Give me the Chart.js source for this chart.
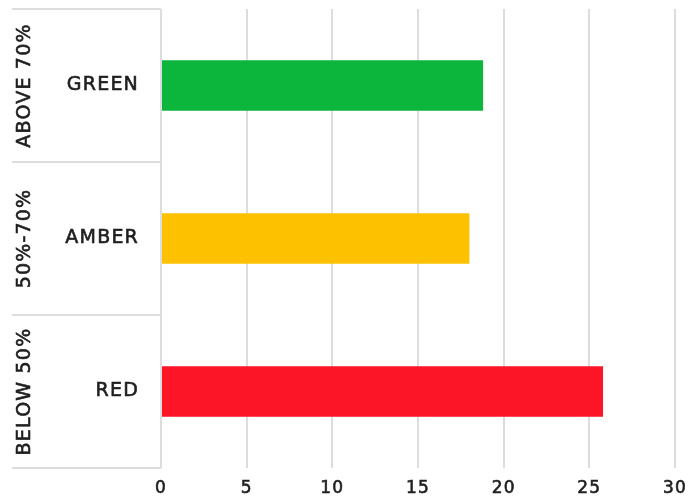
<!DOCTYPE html>
<html>
<head>
<meta charset="utf-8">
<script src="https://cdn.jsdelivr.net/npm/chart.js@4/dist/chart.umd.min.js"></script>
<style>
  html, body { margin: 0; padding: 0; background: #ffffff; }
  canvas { display: block; }
</style>
</head>
<body>
<canvas id="c" width="689" height="501"></canvas>
<script>
// ---- data ----
const categories = ['GREEN', 'AMBER', 'RED'];
const groupLabels = ['ABOVE 70%', '50%-70%', 'BELOW 50%'];
const values = [18.8, 18.0, 25.8];
const barColors = ['#0cb53c', '#fdc100', '#fb1526'];
const xTicks = [0, 5, 10, 15, 20, 25, 30];

// ---- style ----
const FAMILY = "'DejaVu Sans', sans-serif";
const FSIZE = 19;
const TICK_FSIZE = 17;
const SPACING = '1.2px';
const TEXT = '#1e1e1e';
const GRID = '#dddddd';
const PAD_LEFT = 12;
const W_OUT = 50;
const PLOT_LEFT = 161;
const W_IN = PLOT_LEFT - PAD_LEFT - W_OUT;
const OUT_CENTER = 25;
const STROKE = 0.6;

const mctx = document.createElement('canvas').getContext('2d');
mctx.font = 'normal ' + FSIZE + 'px ' + FAMILY;
mctx.letterSpacing = SPACING;
const widestGroup = Math.max(...groupLabels.map(t => mctx.measureText(t).width));
const outPadding = (PAD_LEFT + W_OUT) - OUT_CENTER - widestGroup / 2;

const spacingPlugin = {
  id: 'spacing',
  beforeUpdate(chart) { chart.ctx.letterSpacing = SPACING; },
  beforeDraw(chart) { chart.ctx.letterSpacing = SPACING; }
};

new Chart(document.getElementById('c'), {
  type: 'bar',
  data: {
    labels: categories,
    datasets: [{
      data: values,
      backgroundColor: barColors,
      borderWidth: 0,
      barPercentage: 0.33,
      categoryPercentage: 1.0,
      yAxisID: 'y'
    }]
  },
  plugins: [spacingPlugin],
  options: {
    indexAxis: 'y',
    responsive: false,
    animation: false,
    devicePixelRatio: 1,
    layout: { padding: { left: PAD_LEFT, right: 0, top: 9, bottom: 0 } },
    plugins: { legend: { display: false }, tooltip: { enabled: false } },
    scales: {
      x: {
        type: 'linear',
        min: 0,
        max: 30,
        afterBuildTicks: (scale) => { scale.ticks = xTicks.map(v => ({ value: v })); },
        border: { display: false },
        grid: { color: GRID, lineWidth: 2, drawTicks: false },
        ticks: { color: TEXT, textStrokeColor: TEXT, textStrokeWidth: STROKE, padding: 10, font: { family: FAMILY, size: TICK_FSIZE } },
        afterFit: (scale) => { scale.height = 33; scale.paddingRight = 14; scale.paddingLeft = 0; }
      },
      y: {
        type: 'category',
        position: 'left',
        weight: 0,
        offset: true,
        border: { display: false },
        grid: { offset: true, drawOnChartArea: false, drawTicks: true, tickLength: PLOT_LEFT - PAD_LEFT, color: GRID, lineWidth: 2 },
        ticks: { color: TEXT, textStrokeColor: TEXT, textStrokeWidth: STROKE, crossAlign: 'near', padding: -(PLOT_LEFT - PAD_LEFT) + 22, autoSkip: false, font: { family: FAMILY, size: FSIZE } },
        afterFit: (scale) => { scale.width = W_IN; }
      },
      y2: {
        type: 'category',
        position: 'left',
        weight: 10,
        offset: true,
        labels: groupLabels,
        border: { display: false },
        grid: { display: false, drawTicks: false },
        ticks: { color: TEXT, textStrokeColor: TEXT, textStrokeWidth: STROKE, minRotation: 90, maxRotation: 90, crossAlign: 'center', padding: outPadding, autoSkip: false, font: { family: FAMILY, size: FSIZE } },
        afterFit: (scale) => { scale.width = W_OUT; }
      }
    }
  }
});
</script>
</body>
</html>
